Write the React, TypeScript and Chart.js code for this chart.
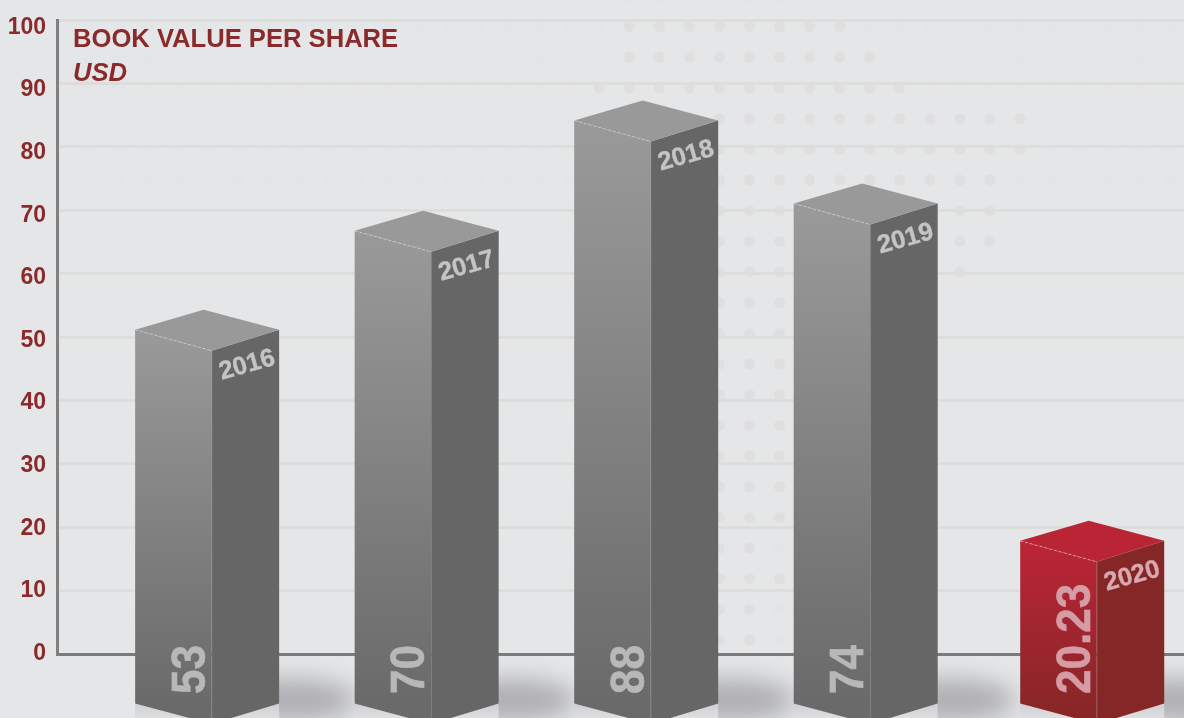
import React, { useEffect, useRef } from "react";
import { Chart, registerables } from "chart.js";

Chart.register(...registerables);

const years = [2016, 2017, 2018, 2019, 2020];
const valueLabels = ["53", "70", "88", "74", "20.23"];
// Height each box reaches on the value axis, read at the apex of its top face.
const barHeights = [54.3, 69.9, 87.3, 74.2, 21];
const yTicks = [0, 10, 20, 30, 40, 50, 60, 70, 80, 90, 100];
const titleText = "BOOK VALUE PER SHARE";
const unitText = "USD";

const FONT = '"Liberation Sans", Arial, sans-serif';
const MAROON = "#8a2a2b";
const GREY = { top: "#999999", a: "#9a9a9a", b: "#6a6a6a", side: "#666666", text: "#b8b8b8", year: "#c4c4c4" };
const RED = { top: "#b92535", a: "#bc2536", b: "#8a2628", side: "#852727", text: "#d69ca5", year: "#d8a9ae" };

const backdrop = {
  id: "backdrop",
  beforeDraw(chart: any) {
    const { ctx, width, height } = chart;
    ctx.save();
    ctx.fillStyle = "#e5e6e8";
    ctx.fillRect(0, 0, width, height);
    const dot = (k: number, r: number, alpha: number) => {
      ctx.globalAlpha = alpha;
      ctx.fillStyle = "#dfdfe0";
      ctx.beginPath();
      ctx.arc(629.3 + 30.05 * k, 26.7 + 30.67 * r, 5.5, 0, Math.PI * 2);
      ctx.fill();
    };
    for (let r = 0; r < 6; r++) for (let k = -18; k < 19; k++) dot(k, r, 0.12);
    const spans = [[-1, -2, 5, 0.5], [0, 0, 7, 1], [1, 0, 8, 1], [2, -1, 9, 1], [3, -1, 13, 1], [4, 0, 13, 1], [5, 3, 12, 1], [6, 3, 12, 1], [7, 3, 12, 1], [8, 3, 11, 1]];
    spans.forEach(([r, a, b, al]) => {
      for (let k = a; k <= b; k++) dot(k, r, al);
    });
    for (let r = 9; r <= 20; r++) {
      dot(3, r, 1);
      dot(4, r, 1);
      dot(5, r, r === 17 || r >= 19 ? 0.25 : 1);
    }
    ctx.restore();
  },
};

const boxes = {
  id: "boxes",
  afterDatasetsDraw(chart: any) {
    const { ctx, scales } = chart;
    const meta = chart.getDatasetMeta(0);
    const y0 = scales.y.getPixelForValue(0);
    const halfW = 72;
    // soft floor shadows first, so every box sits on top of them
    meta.data.forEach((bar: any, i: number) => {
      const cx = bar.x + (i === 4 ? 7 : 0);
      ctx.save();
      ctx.filter = "blur(12px)";
      ctx.fillStyle = "rgba(110,110,113,0.46)";
      ctx.beginPath();
      ctx.ellipse(cx + halfW + 14, y0 + 46, 64, 21, 0, 0, Math.PI * 2);
      ctx.fill();
      ctx.restore();
      const g = ctx.createLinearGradient(0, y0 + 50, 0, y0 + 66);
      g.addColorStop(0, "rgba(208,208,210,1)");
      g.addColorStop(1, "rgba(224,225,227,1)");
      ctx.fillStyle = g;
      ctx.fillRect(cx - halfW, y0 + 48, halfW * 2, 20);
    });
    meta.data.forEach((bar: any, i: number) => {
      const pal = i === 4 ? RED : GREY;
      const cx = bar.x + (i === 4 ? 7 : 0);
      const left = cx - halfW;
      const right = cx + halfW;
      const fx = cx + 4.5;
      const ax = cx - 3.5;
      const apex = bar.y;
      const corner = apex + 20;
      const front = apex + 41;
      const bc = y0 + 49.5;
      const bf = y0 + 70;

      const poly = (pts: number[][], fill: any) => {
        ctx.fillStyle = fill;
        ctx.beginPath();
        pts.forEach(([x, y], n) => (n ? ctx.lineTo(x, y) : ctx.moveTo(x, y)));
        ctx.closePath();
        ctx.fill();
      };
      const grad = ctx.createLinearGradient(0, corner, 0, bc);
      grad.addColorStop(0, pal.a);
      grad.addColorStop(1, pal.b);
      poly([[left, corner], [fx, front], [fx, bf], [left, bc]], grad);
      poly([[fx, front], [right, corner], [right, bc], [fx, bf]], pal.side);
      poly([[left, corner], [ax, apex], [right, corner], [fx, front]], pal.top);

      ctx.save();
      ctx.strokeStyle = "rgba(225,225,225,0.5)";
      ctx.lineWidth = 1;
      ctx.setLineDash([3, 2]);
      ctx.beginPath();
      ctx.moveTo(left, corner);
      ctx.lineTo(fx, front);
      ctx.stroke();
      ctx.setLineDash([]);
      ctx.strokeStyle = "rgba(165,165,165,0.22)";
      ctx.beginPath();
      ctx.moveTo(fx + 0.5, front);
      ctx.lineTo(fx + 0.5, bf);
      ctx.stroke();
      ctx.restore();

      // value, reading upwards on the front face
      ctx.save();
      ctx.translate(fx - 7, y0 + 40);
      ctx.rotate(-Math.PI / 2);
      ctx.scale(1, 1.1);
      ctx.font = `bold 44px ${FONT}`;
      ctx.fillStyle = pal.text;
      ctx.strokeStyle = pal.text;
      ctx.lineWidth = 0.6;
      ctx.textAlign = "left";
      ctx.textBaseline = "alphabetic";
      ctx.fillText(valueLabels[i], 0, 0);
      ctx.strokeText(valueLabels[i], 0, 0);
      ctx.restore();

      // year, following the slope of the side face
      ctx.save();
      ctx.translate(fx + 10, front + 29);
      ctx.rotate(-Math.atan2(19, 68));
      ctx.font = `bold 25.5px ${FONT}`;
      ctx.fillStyle = pal.year;
      ctx.strokeStyle = pal.year;
      ctx.lineWidth = 0.4;
      ctx.textAlign = "left";
      ctx.textBaseline = "alphabetic";
      ctx.fillText(String(years[i]), 0, 0);
      ctx.strokeText(String(years[i]), 0, 0);
      ctx.restore();
    });

    ctx.save();
    ctx.fillStyle = MAROON;
    ctx.textAlign = "left";
    ctx.textBaseline = "alphabetic";
    ctx.font = `bold 25.6px ${FONT}`;
    ctx.fillText(titleText, 73, 47);
    ctx.font = `italic bold 25.6px ${FONT}`;
    ctx.fillText(unitText, 73, 81);
    ctx.restore();
  },
};

export default function App() {
  const ref = useRef<HTMLCanvasElement>(null);
  useEffect(() => {
    const chart = new Chart(ref.current as HTMLCanvasElement, {
      type: "bar",
      data: {
        datasets: [
          {
            label: "Book value per share (USD)",
            data: years.map((x, i) => ({ x, y: barHeights[i] })),
            backgroundColor: "rgba(0,0,0,0)",
            barThickness: 145,
          },
        ],
      },
      options: {
        responsive: false,
        animation: false,
        layout: { padding: { top: 20, bottom: 64, left: 0, right: 0 } },
        plugins: { legend: { display: false }, tooltip: { enabled: false }, title: { display: false } },
        scales: {
          x: {
            type: "linear",
            offset: false,
            bounds: "ticks",
            min: 2015.316,
            max: 2020.45,
            grid: { display: false },
            ticks: { display: false },
            border: { display: true, color: "#7b7b7b", width: 3 },
            afterFit: (s: any) => {
              s.height = 0;
            },
          },
          y: {
            min: 0,
            max: 100,
            position: "left",
            afterBuildTicks: (s: any) => {
              s.ticks = yTicks.map((value) => ({ value }));
            },
            grid: { color: "#dddddc", lineWidth: 3, drawTicks: false },
            ticks: { display: false },
            border: { display: true, color: "#808080", width: 3 },
            afterFit: (s: any) => {
              s.width = 0;
            },
          },
          // Label axis: the printed numbers run on a slightly tighter pitch than the rules.
          yLabels: {
            min: -0.08,
            max: 101.2,
            position: "left",
            afterBuildTicks: (s: any) => {
              s.ticks = yTicks.map((value) => ({ value }));
            },
            grid: { display: false },
            border: { display: false },
            ticks: {
              autoSkip: false,
              padding: 3,
              color: MAROON,
              font: { family: FONT, weight: "bold", size: 23 },
            },
            afterFit: (s: any) => {
              s.width = 57;
            },
          },
        },
      },
      plugins: [backdrop, boxes],
    } as any);
    return () => chart.destroy();
  }, []);
  return (
    <>
      <style>{"html,body{margin:0;padding:0;overflow:hidden}"}</style>
      <canvas ref={ref} width={1184} height={718} style={{ display: "block", width: 1184, height: 718 }} />
    </>
  );
}
